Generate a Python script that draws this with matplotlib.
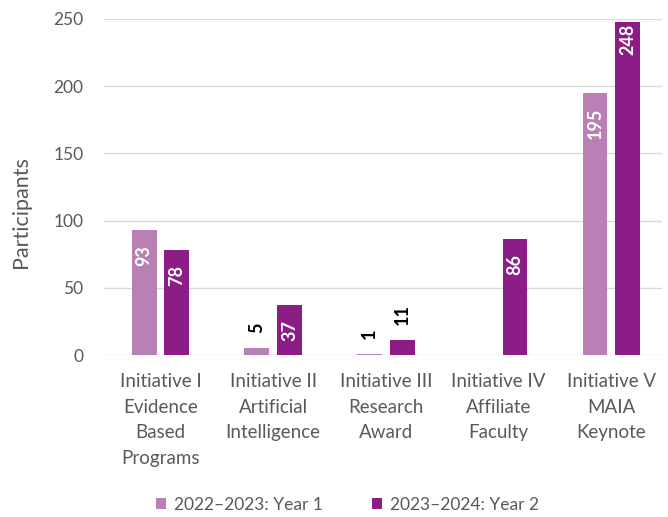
import matplotlib
matplotlib.use("Agg")
import matplotlib.pyplot as plt
import numpy as np

categories = ["Initiative I\nEvidence\nBased\nPrograms",
              "Initiative II\nArtificial\nIntelligence",
              "Initiative III\nResearch\nAward",
              "Initiative IV\nAffiliate\nFaculty",
              "Initiative V\nMAIA\nKeynote"]
year1 = [93, 5, 1, 0, 195]
year2 = [78, 37, 11, 86, 248]
series_names = ["2022\u20132023: Year 1", "2023\u20132024: Year 2"]
yticks = [0, 50, 100, 150, 200, 250]

c1 = "#b880b4"
c2 = "#8c1c86"
gray = "#595959"

plt.rcParams['font.family'] = ['Lato', 'DejaVu Sans']

fig = plt.figure(figsize=(6.68, 5.17), dpi=100)
ax = fig.add_axes([0.156, 0.3133, 0.835, 0.65])

x = np.arange(len(categories))
w = 0.22
off = 0.145
b1 = ax.bar(x - off, year1, w, color=c1, label=series_names[0], zorder=3)
b2 = ax.bar(x + off, year2, w, color=c2, label=series_names[1], zorder=3)

for bars, vals in ((b1, year1), (b2, year2)):
    for rect, v in zip(bars, vals):
        if v == 0:
            continue
        cx = rect.get_x() + rect.get_width() / 2
        if v >= 20:
            ax.annotate(str(v), (cx, v), xytext=(0, -15 if v < 240 else -2),
                        textcoords="offset pixels", rotation=90, ha="center",
                        va="top", color="white", fontsize=13,
                        fontweight="bold", zorder=4)
        else:
            ax.annotate(str(v), (cx, v), xytext=(0, 15),
                        textcoords="offset pixels", rotation=90, ha="center",
                        va="bottom", color="black", fontsize=13,
                        fontweight="bold", zorder=4)

ax.set_xlim(-0.5, 4.45)
ax.set_ylim(0, 250)
ax.set_yticks(yticks)
ax.set_yticklabels([str(t) for t in yticks], color=gray, fontsize=12.5)
ax.set_xticks(x)
ax.set_xticklabels(categories, color=gray, fontsize=13.5, linespacing=1.62, va="top")
ax.tick_params(axis="y", length=0, pad=15)
ax.tick_params(axis="x", length=0, pad=13)
ax.grid(axis="y", color="#d9d9d9", linewidth=1, zorder=0)
for s in ax.spines.values():
    s.set_visible(False)
fig.text(21.5 / 668, 1 - 212 / 517, "Participants", rotation=90, ha="center",
         va="center", color=gray, fontsize=15.5)

fig.legend(handles=[b1, b2], labels=series_names, loc="center", ncol=2,
           bbox_to_anchor=(0.52, 0.024), frameon=False, fontsize=12.5,
           labelcolor=gray, handlelength=0.6, handleheight=0.6,
           handletextpad=0.45, columnspacing=2.8)

fig.savefig("out.png", dpi=100)
